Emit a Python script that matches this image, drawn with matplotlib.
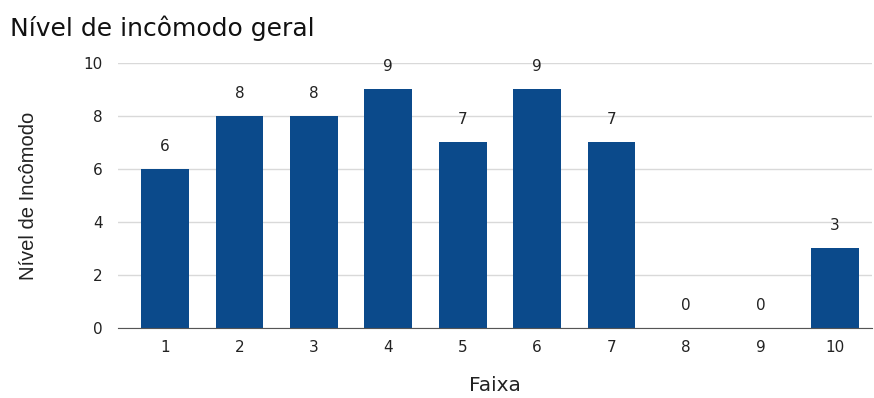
import matplotlib.pyplot as plt

faixas = ['1', '2', '3', '4', '5', '6', '7', '8', '9', '10']
incomodo = [6, 8, 8, 9, 7, 9, 7, 0, 0, 3]
yticks = [0, 2, 4, 6, 8, 10]

plt.rcParams['font.family'] = ['DejaVu Sans']

fig = plt.figure(figsize=(8.74, 3.98), dpi=100)
ax = fig.add_axes([0.135, 0.176, 0.863, 0.666])

pos = list(range(1, len(faixas) + 1))
ax.bar(pos, incomodo, width=0.64, color='#0b4a8b', zorder=3)

for x, v in zip(pos, incomodo):
    ax.annotate(str(v), (x, v), xytext=(0, 11), textcoords='offset points',
                ha='center', va='bottom', fontsize=11, color='#222222')

ax.set_xlim(0.37, 10.5)
ax.set_ylim(0, 10)
ax.set_xticks(pos)
ax.set_xticklabels(faixas)
ax.set_yticks(yticks)
ax.tick_params(axis='both', length=0, labelsize=11, colors='#222222')
ax.tick_params(axis='x', pad=9)
ax.tick_params(axis='y', pad=11)
ax.grid(axis='y', color='#d9d9d9', linewidth=1, zorder=0)
for s in ['top', 'right', 'left']:
    ax.spines[s].set_visible(False)
ax.spines['bottom'].set_color('#555555')
ax.spines['bottom'].set_zorder(4)

ax.set_xlabel('Faixa', fontsize=14.5, labelpad=15, color='#222222')
ax.set_ylabel('Nível de Incômodo', fontsize=14.5, labelpad=33, color='#222222',
              family=['Liberation Sans Narrow', 'Liberation Sans', 'DejaVu Sans'])
fig.text(0.011, 0.93, 'Nível de incômodo geral', fontsize=18, ha='left', va='center',
         color='#111111')

fig.savefig('out.png', dpi=100)
